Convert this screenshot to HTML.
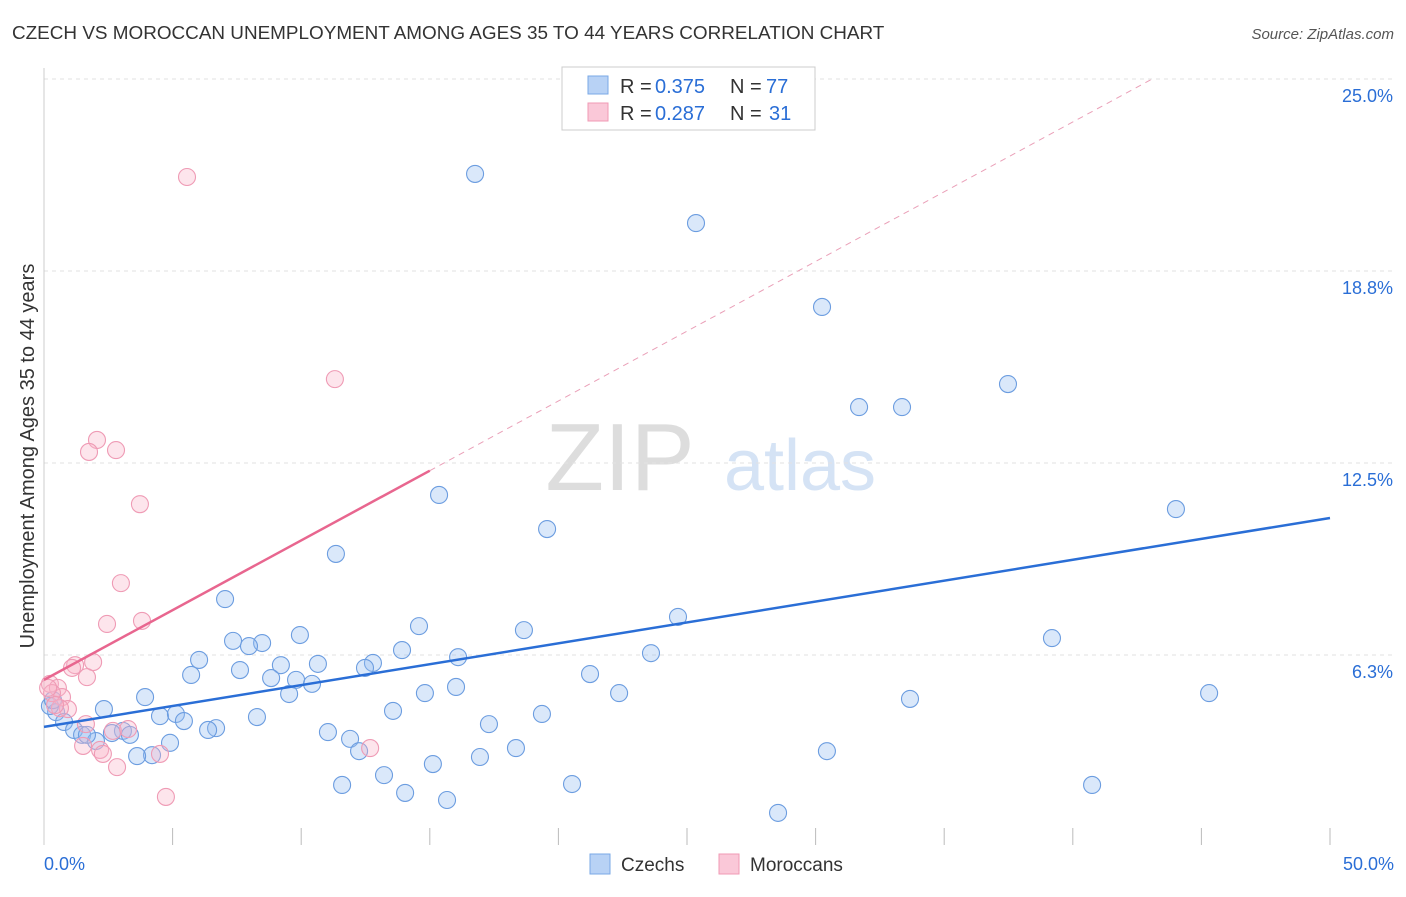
<!DOCTYPE html>
<html><head><meta charset="utf-8"><style>
body{margin:0;background:#fff;font-family:"Liberation Sans",sans-serif}
svg text{font-family:"Liberation Sans",sans-serif}
</style></head><body>
<svg id="c" width="1406" height="892">
<text x="12" y="39" font-size="18.9" fill="#333">CZECH VS MOROCCAN UNEMPLOYMENT AMONG AGES 35 TO 44 YEARS CORRELATION CHART</text>
<text x="1394" y="39" font-size="15" fill="#555" font-style="italic" text-anchor="end">Source: ZipAtlas.com</text>
<text x="620" y="490" font-size="96" fill="#ddd" font-family="Liberation Serif" text-anchor="middle">ZIP</text>
<text x="800" y="490" font-size="72" fill="#d5e3f5" text-anchor="middle">atlas</text>
<text transform="translate(34,456) rotate(-90)" font-size="20" fill="#333" text-anchor="middle">Unemployment Among Ages 35 to 44 years</text>
<g id="grid"></g><g id="marks"></g>
<g>
<rect x="562" y="67" width="253" height="63" fill="#fff" stroke="#ccc"/>
<rect x="588" y="76" width="20" height="18" fill="#b8d2f5" stroke="#7aa8e6"/>
<rect x="588" y="103" width="20" height="18" fill="#fac8d8" stroke="#f09ab5"/>
<text x="620" y="93" font-size="20" fill="#333">R =</text>
<text x="655" y="93" font-size="20" fill="#2a6ed6">0.375</text>
<text x="730" y="93" font-size="20" fill="#333">N =</text>
<text x="766" y="93" font-size="20" fill="#2a6ed6">77</text>
<text x="620" y="120" font-size="20" fill="#333">R =</text>
<text x="655" y="120" font-size="20" fill="#2a6ed6">0.287</text>
<text x="730" y="120" font-size="20" fill="#333">N =</text>
<text x="769" y="120" font-size="20" fill="#2a6ed6">31</text>
</g>
<g>
<rect x="590" y="854" width="20" height="20" fill="#b8d2f5" stroke="#7aa8e6"/>
<text x="621" y="871" font-size="19" fill="#333">Czechs</text>
<rect x="719" y="854" width="20" height="20" fill="#fac8d8" stroke="#f09ab5"/>
<text x="750" y="871" font-size="19" fill="#333">Moroccans</text>
</g>
</svg>
<script>
const yTicks=[25,18.75,12.5,6.25];
const yTickLabels=["25.0%","18.8%","12.5%","6.3%"];
const czX=[16.76,25.35,30.25,37.48,31.69,33.36,15.36,19.56,44.01,11.35,7.04,24.65,14.58,18.66,9.95,7.35,8.48,7.97,39.19,23.60,13.92,6.03,16.10,10.65,12.79,12.48,9.21,7.62,5.72,21.23,8.83,9.80,10.42,3.93,9.53,14.81,16.02,22.36,33.67,45.30,2.33,0.47,4.51,5.13,5.44,8.28,13.57,19.36,17.30,0.78,1.17,6.69,6.38,3.07,3.34,2.64,1.48,2.02,1.67,11.04,11.90,4.90,18.35,12.25,4.20,3.62,16.95,30.44,15.12,13.22,11.59,20.53,40.75,14.04,15.67,28.54,0.23,0.35];
const czY=[21.91,20.31,17.58,15.07,14.32,14.32,11.46,10.35,11.00,9.54,8.07,7.49,7.19,7.06,6.90,6.71,6.64,6.54,6.80,6.31,6.41,6.09,6.18,5.96,5.99,5.83,5.92,5.76,5.60,5.63,5.50,5.44,5.31,4.88,4.98,5.01,5.21,5.01,4.82,5.01,4.49,4.39,4.26,4.33,4.10,4.23,4.43,4.33,4.00,4.07,3.81,3.87,3.81,3.78,3.65,3.71,3.65,3.45,3.65,3.74,3.52,3.39,3.22,3.12,2.99,2.96,2.93,3.12,2.70,2.34,2.02,2.05,2.02,1.76,1.53,1.11,4.59,4.78];
const moX=[5.56,11.31,2.06,1.75,2.80,3.73,2.99,2.45,3.81,1.91,1.21,1.09,1.67,0.23,0.54,0.70,0.31,0.93,0.62,1.63,2.68,3.27,1.52,2.18,2.29,4.51,2.84,12.68,4.74,0.16,0.43];
const moY=[21.81,15.23,13.25,12.86,12.92,11.16,8.59,7.26,7.36,6.02,5.92,5.83,5.53,5.31,5.18,4.88,5.01,4.49,4.52,4.00,3.78,3.84,3.29,3.16,3.03,3.03,2.60,3.22,1.63,5.18,4.62];
const czTrend=[3.91,10.71];
const moTrend=[5.44,0.454];
const X=v=>44+v*25.72, Y=v=>847-v*30.72;
const NS="http://www.w3.org/2000/svg";
function mk(p,t,a){const e=document.createElementNS(NS,t);for(const k in a)e.setAttribute(k,a[k]);p.appendChild(e);return e;}
const g=document.getElementById('grid'),m=document.getElementById('marks');
yTicks.forEach((t,i)=>{
 const l=mk(g,'line',{x1:44,x2:1394,y1:Y(t),y2:Y(t),stroke:'#e2e2e2','stroke-dasharray':'4,4'});
 
 
 const tx=mk(g,'text',{x:1393,y:Y(t)+23,'font-size':18,fill:'#2a6ed6','text-anchor':'end'});tx.textContent=yTickLabels[i];
 
 
});
const ax=mk(g,'line',{x1:44,x2:44,y1:68,y2:845,stroke:'#ccc'});


for(let k=1;k<=10;k++){const t=mk(g,'line',{x1:X(k*5),x2:X(k*5),y1:828,y2:845,stroke:'#bbb'});
 
 }
const l0=mk(g,'text',{x:44,y:870,'font-size':18,fill:'#2a6ed6'});l0.textContent='0.0%';


const l1=mk(g,'text',{x:1394,y:870,'font-size':18,fill:'#2a6ed6','text-anchor':'end'});l1.textContent='50.0%';


czX.forEach((v,i)=>{const c=mk(m,'circle',{cx:X(v),cy:Y(czY[i]),r:8.5,fill:'rgba(150,190,240,0.35)',stroke:'#6c9de0','stroke-width':1.1});
 
 });
moX.forEach((v,i)=>{const c=mk(m,'circle',{cx:X(v),cy:Y(moY[i]),r:8.5,fill:'rgba(248,180,200,0.35)',stroke:'#ef9bb5','stroke-width':1.1});
 
 });
const tl=mk(m,'line',{x1:X(0),y1:Y(czTrend[0]),x2:X(50),y2:Y(czTrend[1]),stroke:'#2a6ed6','stroke-width':2.5});


const xe=(25-moTrend[0])/moTrend[1];
const md=mk(m,'line',{x1:X(15),y1:Y(moTrend[0]+15*moTrend[1]),x2:X(xe),y2:Y(25),stroke:'#eaa0b8','stroke-width':1,'stroke-dasharray':'6,5'});


const ms=mk(m,'line',{x1:X(0),y1:Y(moTrend[0]),x2:X(15),y2:Y(moTrend[0]+15*moTrend[1]),stroke:'#e8668f','stroke-width':2.5});


</script>
</body></html>
